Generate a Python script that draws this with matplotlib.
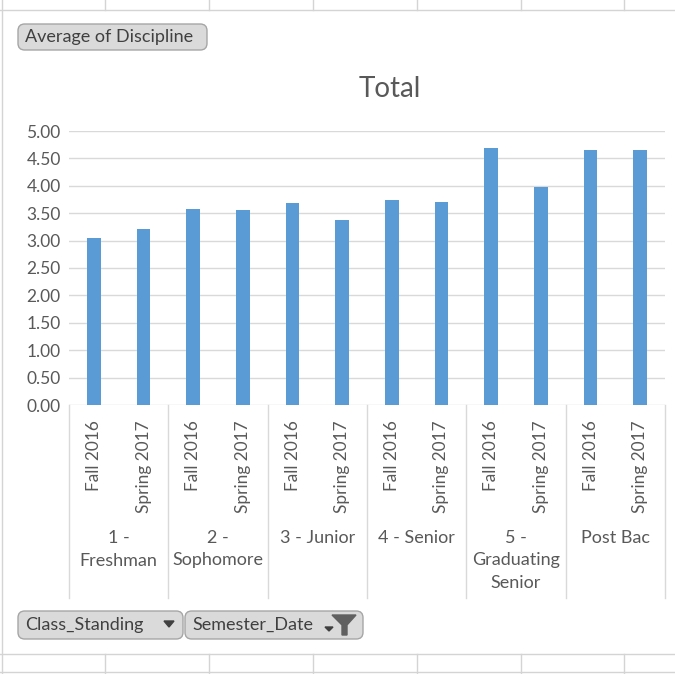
import matplotlib
matplotlib.use("Agg")
import matplotlib.pyplot as plt
from matplotlib.patches import FancyBboxPatch, Polygon
from matplotlib.lines import Line2D
import matplotlib.transforms as mtransforms

plt.rcParams['font.family'] = ['Lato', 'DejaVu Sans']

# ---- data ----
groups = ["1 -\nFreshman", "2 -\nSophomore", "3 - Junior", "4 - Senior",
          "5 -\nGraduating\nSenior", "Post Bac"]
semesters = ["Fall 2016", "Spring 2017"]
values = [3.05, 3.22, 3.58, 3.55, 3.68, 3.37, 3.74, 3.71, 4.69, 3.97, 4.66, 4.66]
yticks = [0.0, 0.5, 1.0, 1.5, 2.0, 2.5, 3.0, 3.5, 4.0, 4.5, 5.0]
title = "Total"
value_field = "Average of Discipline"
row_fields = ["Class_Standing", "Semester_Date"]

W, H = 675, 674
fig = plt.figure(figsize=(W / 100, H / 100), dpi=100)
fig.patch.set_facecolor("white")

def fx(px):
    return px / W

def fy(py):
    return 1 - py / H

txt_col = "#595959"
grid_col = "#D9D9D9"
sheet_col = "#D4D4D4"

# ---- spreadsheet gridlines around the chart ----
for y in [10, 654, 672]:
    fig.add_artist(Line2D([0, 1], [fy(y), fy(y)], color=sheet_col, lw=1))
for x in [105, 209, 313, 417, 521, 624]:
    fig.add_artist(Line2D([fx(x), fx(x)], [fy(0), fy(10)], color=sheet_col, lw=1))
    fig.add_artist(Line2D([fx(x), fx(x)], [fy(654), fy(674)], color=sheet_col, lw=1))
fig.add_artist(Line2D([fx(2), fx(2)], [0, 1], color=sheet_col, lw=1))

# ---- axes ----
left, right, top, bottom = 69, 665, 131, 405
ax = fig.add_axes([fx(left), fy(bottom), fx(right - left), (bottom - top) / H])
n = len(values)
xs = list(range(n))
ax.bar(xs, values, width=0.28, color="#5B9BD5", zorder=3)
ax.set_xlim(-0.5, n - 0.5)
ax.set_ylim(0, 5)
ax.set_yticks(yticks)
ax.set_yticklabels([f"{v:.2f}" for v in yticks])
ax.yaxis.grid(True, color=grid_col, lw=1)
ax.set_axisbelow(True)
for s in ax.spines.values():
    s.set_visible(False)
ax.tick_params(axis="y", length=0, pad=6, labelsize=12.5, labelcolor=txt_col)
ax.set_xticks(xs)
ax.set_xticklabels([semesters[i % 2] for i in xs], rotation=90)
ax.tick_params(axis="x", length=0, pad=11, labelsize=12.4, labelcolor=txt_col)
fig.text(fx(390), fy(89), title, ha="center", va="center", fontsize=20, color=txt_col)

trans = mtransforms.blended_transform_factory(ax.transData, ax.transAxes)
ysep = -(598 - bottom) / (bottom - top)
for k in range(len(groups) + 1):
    xb = -0.5 + 2 * k
    ax.add_line(Line2D([xb, xb], [0, ysep], transform=trans, color=grid_col,
                       lw=1, clip_on=False))
ylab = -(530 - bottom) / (bottom - top)
for k, g in enumerate(groups):
    ax.text(2 * k + 0.5, ylab, g, transform=trans, ha="center", va="top",
            fontsize=13, color=txt_col, linespacing=1.5, multialignment="center")

# ---- pivot field buttons ----
def button(x0, y0, x1, y1, label):
    box = FancyBboxPatch((fx(x0), fy(y1)), fx(x1 - x0), (y1 - y0) / H,
                         boxstyle="round,pad=0,rounding_size=0.01",
                         transform=fig.transFigure, facecolor="#DADADA",
                         edgecolor="#A6A6A6", lw=1)
    fig.add_artist(box)
    fig.text(fx(x0 + 7), fy((y0 + y1) / 2), label, ha="left", va="center",
             fontsize=13, color="#404040")

button(18, 24, 207, 50, value_field)
button(18, 611, 183, 639, row_fields[0])
button(185, 611, 363, 639, row_fields[1])

# dropdown arrow for Class_Standing
fig.add_artist(Polygon([(fx(164), fy(621)), (fx(174), fy(621)), (fx(169), fy(627))],
                       closed=True, transform=fig.transFigure, color="#404040"))
# filter funnel for Semester_Date
fig.add_artist(Polygon([(fx(332), fy(615)), (fx(356), fy(615)), (fx(347), fy(625)),
                        (fx(347), fy(635)), (fx(342), fy(635)), (fx(342), fy(625))],
                       closed=True, transform=fig.transFigure, color="#606060"))
fig.add_artist(Polygon([(fx(325), fy(627)), (fx(333), fy(627)), (fx(329), fy(631))],
                       closed=True, transform=fig.transFigure, color="#404040"))

fig.savefig("out.png", dpi=100, facecolor="white")
